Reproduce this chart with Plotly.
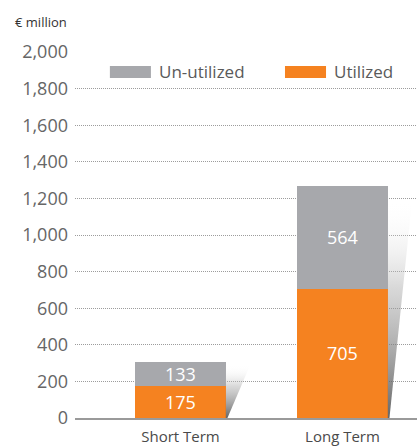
import plotly.graph_objects as go

# data
categories = ["Short Term", "Long Term"]
utilized = [175, 705]
un_utilized = [133, 564]
y_ticks = [0, 200, 400, 600, 800, 1000, 1200, 1400, 1600, 1800, 2000]

ORANGE = "#F58220"
GREY = "#A7A8AC"
FONT = "Open Sans"

x_pos = list(range(len(categories)))
bar_w = 0.56

fig = go.Figure()

# soft shadow wedge to the right of each bar
for i, (u, n) in enumerate(zip(utilized, un_utilized)):
    total = u + n
    edge = i + bar_w / 2
    top = total * 0.94
    fig.add_trace(go.Scatter(
        x=[edge, edge + 0.15, edge + 0.01, edge, edge],
        y=[top, top, 0, 0, top],
        mode="lines",
        line=dict(width=0, color="rgba(0,0,0,0)"),
        fill="toself",
        fillgradient=dict(
            type="vertical",
            start=0,
            stop=top,
            colorscale=[[0, "rgba(75,75,75,0.85)"], [0.6, "rgba(170,170,170,0.45)"],
                        [1, "rgba(255,255,255,0)"]],
        ),
        showlegend=False,
        hoverinfo="skip",
    ))

fig.add_trace(go.Bar(
    x=x_pos, y=utilized, width=bar_w, name="Utilized",
    marker=dict(color=ORANGE, line=dict(width=0)),
    text=[str(v) for v in utilized], textposition="inside",
    insidetextanchor="middle",
    textfont=dict(color="white", size=18, family=FONT),
    showlegend=False,
))
fig.add_trace(go.Bar(
    x=x_pos, y=un_utilized, width=bar_w, name="Un-utilized",
    marker=dict(color=GREY, line=dict(width=0)),
    text=[str(v) for v in un_utilized], textposition="inside",
    insidetextanchor="middle",
    textfont=dict(color="white", size=18, family=FONT),
    showlegend=False,
))

# legend drawn by hand so the swatches are wide like the original
legend_items = [("Un-utilized", GREY, 0.102), ("Utilized", ORANGE, 0.614)]
for label, color, x0 in legend_items:
    fig.add_shape(type="rect", xref="paper", yref="paper",
                  x0=x0, x1=x0 + 0.12, y0=0.929, y1=0.962,
                  fillcolor=color, line=dict(width=0))
    fig.add_annotation(text=label, xref="paper", yref="paper",
                       x=x0 + 0.137, y=0.946, xanchor="left", yanchor="middle",
                       showarrow=False,
                       font=dict(size=17, color="#5a5a5a", family=FONT))

fig.add_annotation(text="€ million", xref="paper", yref="paper",
                   x=-0.18, y=1.082, xanchor="left", yanchor="middle",
                   showarrow=False, font=dict(size=13, color="#333333", family=FONT))

fig.update_layout(
    barmode="stack",
    width=417, height=447, autosize=False,
    margin=dict(l=75, r=0, t=52, b=29),
    plot_bgcolor="white", paper_bgcolor="white",
    uniformtext=dict(minsize=18, mode="show"),
    xaxis=dict(
        range=[-0.651, 1.46],
        tickvals=x_pos, ticktext=categories,
        showgrid=False, zeroline=False,
        showline=True, linecolor="#9a9a9a", linewidth=1.5,
        ticks="", ticklabelstandoff=4, automargin=False,
        tickfont=dict(size=15, color="#4a4a4a", family=FONT),
    ),
    yaxis=dict(
        range=[0, 2000],
        tickvals=y_ticks, tickformat=",",
        showgrid=True, gridcolor="#9c9c9c", gridwidth=1, griddash="1px,1px",
        zeroline=False, showline=False,
        ticks="", ticklabelstandoff=6, automargin=False,
        tickfont=dict(size=18, color="#666666", family=FONT),
    ),
)

# page body has a default 8px margin; drop it so the chart sits at the corner
fig.write_html("out.html", config={"displayModeBar": False},
               post_script="document.body.style.margin='0';")
